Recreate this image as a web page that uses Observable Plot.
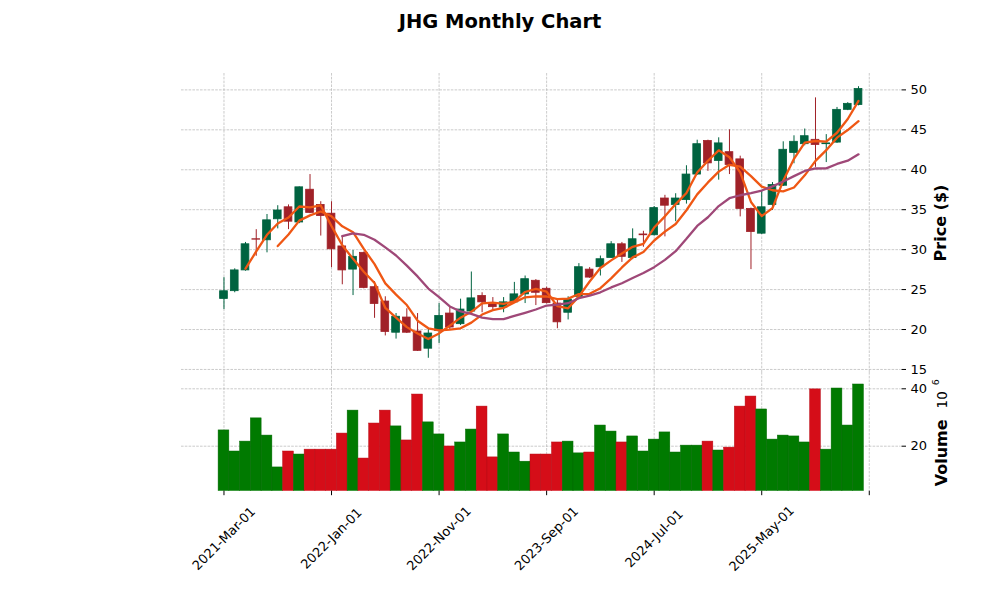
<!DOCTYPE html>
<html><head><meta charset="utf-8">
<script src="https://cdn.jsdelivr.net/npm/d3@7"></script>
<script src="https://cdn.jsdelivr.net/npm/@observablehq/plot@0.6"></script>
<style>
body{margin:0;background:#fff;}
#wrap{position:relative;width:1000px;height:600px;overflow:hidden;font-family:"DejaVu Sans",sans-serif;}
#title{position:absolute;left:0;width:1000px;top:12px;text-align:center;font-weight:bold;font-size:19.5px;line-height:20px;color:#000;}
.panel{position:absolute;left:0;}
</style></head><body>
<div id="wrap">
<div id="title">JHG Monthly Chart</div>
<div id="price" class="panel" style="top:0px"></div>
<div id="vol" class="panel" style="top:372px"></div>
</div>
<script>
const months = ["2021-03","2021-04","2021-05","2021-06","2021-07","2021-08","2021-09","2021-10","2021-11","2021-12",
"2022-01","2022-02","2022-03","2022-04","2022-05","2022-06","2022-07","2022-08","2022-09","2022-10",
"2022-11","2022-12","2023-01","2023-02","2023-03","2023-04","2023-05","2023-06","2023-07","2023-08",
"2023-09","2023-10","2023-11","2023-12","2024-01","2024-02","2024-03","2024-04","2024-05","2024-06",
"2024-07","2024-08","2024-09","2024-10","2024-11","2024-12","2025-01","2025-02","2025-03","2025-04",
"2025-05","2025-06","2025-07","2025-08","2025-09","2025-10","2025-11","2025-12","2026-01","2026-02"];
const opens  = [23.83,24.8,27.4,31.3,31.17,33.8,35.3,33.4,37.5,35.6, 34.5,30.4,27.5,29.6,25.3,23.5,19.6,21.5,19.75,17.6,
19.8,22.0,20.67,22.25,24.2,23.25,22.75,23.4,24.4,26.1, 25.1,23.25,22.1,24.1,27.5,27.8,28.96,30.67,28.96,31.9,
31.8,36.4,35.6,36.2,39.4,43.6,41.1,42.2,41.3,35.1, 32.0,35.6,38.0,42.1,43.2,43.75,43.2,43.4,47.5,48.1];
const highs  = [26.5,27.6,30.9,32.5,34.4,35.5,35.6,37.85,39.4,36.0, 36.0,31.7,29.9,29.7,26.0,24.1,22.0,22.6,22.0,20.1,
23.25,22.8,23.8,27.2,24.6,24.0,24.0,25.9,26.7,26.25, 25.3,23.7,24.1,28.25,27.75,29.2,31.0,30.9,32.6,32.3,
35.4,36.8,37.0,40.5,43.7,43.7,44.0,45.0,41.7,35.2, 37.4,38.4,43.5,44.25,45.1,49.0,44.4,47.8,48.4,50.4];
const lows   = [22.5,24.6,27.3,29.17,29.6,32.6,32.5,33.25,34.5,31.7, 27.75,25.6,24.25,25.1,21.4,19.2,18.8,19.5,17.25,16.4,
18.25,20.0,20.5,22.2,22.1,22.3,22.1,23.3,23.25,23.0, 23.2,20.1,21.2,24.0,26.4,26.7,28.9,28.4,28.75,30.3,
31.7,31.6,33.5,35.7,39.3,39.8,38.7,39.4,34.1,27.5, 31.9,34.9,37.9,40.75,43.0,40.3,40.9,43.3,47.4,48.0];
const closes = [24.79,27.4,30.67,31.25,33.67,34.9,33.5,37.8,34.6,34.2, 30.04,27.4,29.1,25.2,23.2,19.7,21.6,19.6,17.33,19.5,
21.7,20.25,22.5,23.9,23.4,22.8,23.4,24.4,26.3,24.6, 23.3,20.9,23.75,27.8,26.5,28.8,30.67,29.1,31.3,31.8,
35.2,35.5,36.4,39.4,43.2,40.8,43.3,40.6,35.1,32.2, 35.3,38.1,42.5,43.5,44.2,43.1,43.3,47.5,48.25,50.1];
// volume in millions of shares
const volumes = [25.5,18.15,21.6,29.7,23.7,12.6,18.15,17.1,18.8,18.8, 18.8,24.4,32.4,15.7,27.9,32.4,26.9,22.0,38.0,28.3,
24.1,19.9,21.3,25.8,33.8,16.1,24.1,17.8,14.6,17.1, 17.1,21.3,21.6,17.5,17.8,27.2,25.1,21.3,23.4,18.15,
22.3,24.8,17.8,20.2,20.2,21.6,18.5,19.5,33.8,37.3, 32.8,22.3,23.7,23.4,21.3,39.8,18.8,40.1,27.2,41.5];
const tickPositions = [0,10,20,30,40,50,60];
const tickLabels = ["2021-Mar-01","2022-Jan-01","2022-Nov-01","2023-Sep-01","2024-Jul-01","2025-May-01"];
const priceTicks = [15,20,25,30,35,40,45,50];
const volumeTicks = [20,40];
const maWindows = [3,6,12];
const maColors = ["#ef5714","#ef5714","#9f4878"];

const UP = "#006340", DOWN = "#a02128";
const VUP = "#007a00", VDOWN = "#d50d18";
const VUPEDGE = "#006800", VDOWNEDGE = "#b80a14";
const GRID = {stroke:"#b4b4b4", strokeOpacity:1, strokeWidth:0.7, strokeDasharray:"2.6,1.2"};
const FS = 13;

const rows = months.map((m,i)=>({
  i, month:m, open:opens[i], high:highs[i], low:lows[i], close:closes[i], volume:volumes[i],
  up: closes[i] > opens[i],
  vup: i === 0 ? closes[i] > opens[i] : closes[i] > closes[i-1]
}));
const tickData = tickLabels.map((label,k)=>({i:tickPositions[k], label}));

const XDOM = [-3.95, 62.95];
const ML = 181, MR = 99.5;
const style = {fontFamily:"DejaVu Sans", fontSize:FS+"px", color:"#000", background:"transparent", overflow:"visible"};

const pricePlot = Plot.plot({
  width:1000, height:372, marginTop:73, marginBottom:0, marginLeft:ML, marginRight:MR,
  x:{domain:XDOM, axis:null},
  y:{domain:[14.62,52.05], axis:null},
  color:{type:"identity"},
  style,
  marks:[
    Plot.gridY(priceTicks, GRID),
    Plot.gridX(tickPositions, GRID),
    Plot.ruleX(rows, {x:"i", y1:"low", y2:"high", stroke:d=>d.up?UP:DOWN, strokeWidth:1}),
    Plot.rect(rows, {x1:d=>d.i-0.36, x2:d=>d.i+0.36, y1:"open", y2:"close", fill:d=>d.up?UP:DOWN, stroke:d=>d.up?UP:DOWN, strokeWidth:0.8}),
    ...maWindows.map((k,j)=>Plot.lineY(rows, Plot.windowY({k, anchor:"end", strict:true}, {x:"i", y:"close", stroke:maColors[j], strokeWidth:2.3}))),
    Plot.axisY(priceTicks, {anchor:"right", tickSize:4.5, tickPadding:5, label:null, fontSize:FS}),
    Plot.text(["Price ($)"], {text:d=>d, frameAnchor:"right", textAnchor:"middle", lineAnchor:"middle", dx:39.5, rotate:-90, fontWeight:"bold", fontSize:16, fill:"#000"})
  ]
});
document.getElementById("price").appendChild(pricePlot);

const VH = 228, VPLOT = 118.7;
const volPlot = Plot.plot({
  width:1000, height:VH, marginTop:0, marginBottom:VH-VPLOT, marginLeft:ML, marginRight:MR,
  x:{domain:XDOM, axis:null},
  y:{domain:[4.32,45.68], axis:null},
  color:{type:"identity"},
  style,
  marks:[
    Plot.gridY(volumeTicks, GRID),
    Plot.gridX(tickPositions, GRID),
    Plot.rectY(rows, {x1:d=>d.i-0.5, x2:d=>d.i+0.5, y:"volume", fill:d=>d.vup?VUP:VDOWN, stroke:d=>d.vup?VUPEDGE:VDOWNEDGE, strokeWidth:0.5, clip:true}),
    Plot.axisY(volumeTicks, {anchor:"right", tickSize:4.5, tickPadding:5, label:null, fontSize:FS}),
    Plot.axisX(tickPositions, {anchor:"bottom", tickSize:4.5, tickFormat:()=>"", label:null}),
    Plot.text(tickData, {x:"i", text:"label", frameAnchor:"bottom", dy:47.5, rotate:-45, textAnchor:"middle", lineAnchor:"middle", fontSize:FS, fill:"#000"}),
    Plot.text(["Volume"], {text:d=>d, frameAnchor:"right", textAnchor:"middle", lineAnchor:"middle", dx:41, dy:21, rotate:-90, fontWeight:"bold", fontSize:16, fill:"#000"}),
    Plot.text(["10"], {text:d=>d, frameAnchor:"right", textAnchor:"middle", lineAnchor:"middle", dx:41.5, dy:-32, rotate:-90, fontSize:13.5, fill:"#000"}),
    Plot.text(["6"], {text:d=>d, frameAnchor:"right", textAnchor:"middle", lineAnchor:"middle", dx:34.5, dy:-49.5, rotate:-90, fontSize:9.5, fill:"#000"})
  ]
});
document.getElementById("vol").appendChild(volPlot);
</script>
</body></html>
